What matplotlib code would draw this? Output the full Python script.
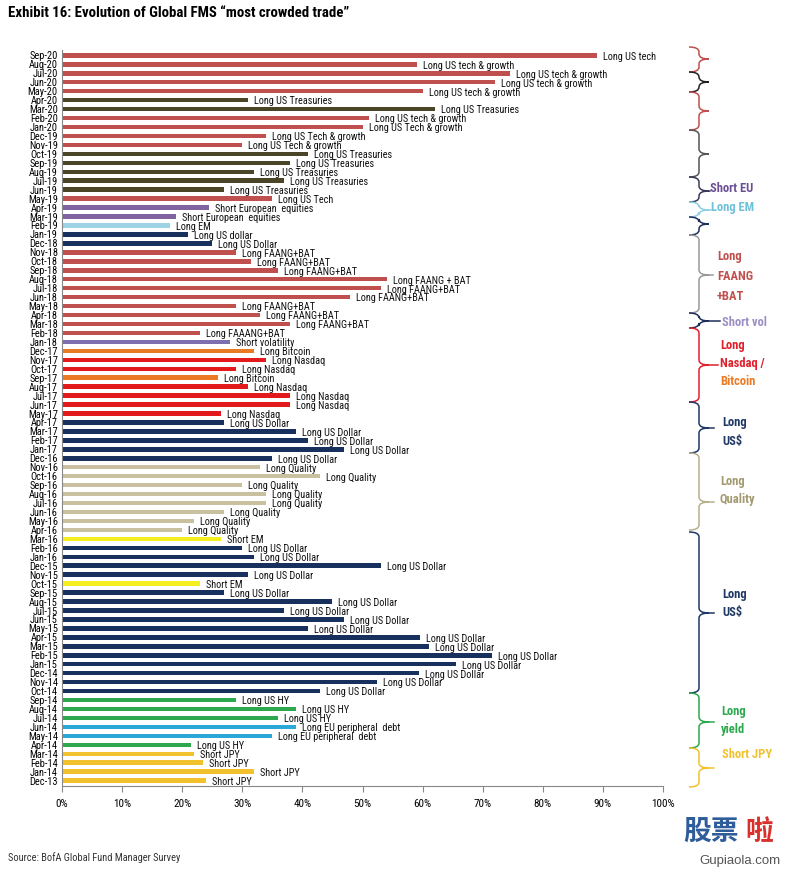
import numpy as np
import pandas as pd
import matplotlib
matplotlib.use('Agg')
import matplotlib.pyplot as plt
from matplotlib import font_manager
from matplotlib.font_manager import FontProperties
from matplotlib.path import Path
from matplotlib.patches import PathPatch


def find_narrow(bold=False):
    # the original uses Arial Narrow; look for any condensed face installed
    prefs = ['Liberation Sans Narrow', 'Arial Narrow', 'Roboto Condensed', 'Open Sans Condensed',
             'Noto Sans Condensed', 'DejaVu Sans Condensed', 'DejaVu Sans']
    found = []
    for f in font_manager.fontManager.ttflist:
        w = f.weight if isinstance(f.weight, int) else (700 if 'bold' in str(f.weight) else 400)
        if (w >= 600) != bold or f.style != 'normal':
            continue
        narrow = ('Narrow' in f.name or 'Condensed' in f.name or 'ondensed' in str(f.stretch)
                  or 'Condensed' in f.fname)
        if narrow:
            found.append(f)
    for p in prefs:
        for f in found:
            if f.name == p:
                return FontProperties(fname=f.fname)
    if found:
        return FontProperties(fname=found[0].fname)
    return FontProperties(family='Liberation Sans', weight='bold' if bold else 'normal')


FP = find_narrow()
FPB = find_narrow(bold=True)
plt.rcParams['font.family'] = ['Liberation Sans', 'DejaVu Sans']

# Dec-13 .. Sep-20, oldest first
months = list(pd.date_range('2013-12-01', '2020-09-01', freq='MS').strftime('%b-%y'))

values = [
    24, 32, 23.4, 22, 21.5, 35, 39, 36, 39, 29, 43, 52.4, 59.4,          # Dec-13 .. Dec-14
    65.5, 71.6, 61, 59.5, 41, 47, 37, 45, 27, 23, 31, 53,                # 2015
    32, 30, 26.5, 20, 22, 27, 34, 34, 30, 43, 33, 35,                    # 2016
    47, 41, 39, 27, 26.5, 38, 38, 31, 26, 29, 34, 32,                    # 2017
    28, 23, 38, 33, 29, 48, 53, 54, 36, 31.5, 29, 25,                    # 2018
    21, 18, 19, 24.5, 35, 27, 37, 32, 38, 41, 30, 34,                    # 2019
    50, 51, 62, 31, 60, 72, 74.5, 59, 89,                                # 2020
]

trades = [
    'Short JPY', 'Short JPY', 'Short JPY', 'Short JPY', 'Long US HY',
    'Long EU peripheral  debt', 'Long EU peripheral  debt', 'Long US HY', 'Long US HY', 'Long US HY',
    'Long US Dollar', 'Long US Dollar', 'Long US Dollar',
    'Long US Dollar', 'Long US Dollar', 'Long US Dollar', 'Long US Dollar', 'Long US Dollar',
    'Long US Dollar', 'Long US Dollar', 'Long US Dollar', 'Long US Dollar', 'Short EM',
    'Long US Dollar', 'Long US Dollar',
    'Long US Dollar', 'Long US Dollar', 'Short EM', 'Long Quality', 'Long Quality', 'Long Quality',
    'Long Quality', 'Long Quality', 'Long Quality', 'Long Quality', 'Long Quality', 'Long US Dollar',
    'Long US Dollar', 'Long US Dollar', 'Long US Dollar', 'Long US Dollar', 'Long Nasdaq',
    'Long Nasdaq', 'Long Nasdaq', 'Long Nasdaq', 'Long Bitcoin', 'Long Nasdaq', 'Long Nasdaq',
    'Long Bitcoin',
    'Short volatility', 'Long FAAANG+BAT', 'Long FAANG+BAT', 'Long FAANG+BAT', 'Long FAANG+BAT',
    'Long FAANG+BAT', 'Long FAANG+BAT', 'Long FAANG + BAT', 'Long FAANG+BAT', 'Long FAANG+BAT',
    'Long FAANG+BAT', 'Long US Dollar',
    'Long US dollar', 'Long EM', 'Short European  equities', 'Short European  equities',
    'Long US Tech', 'Long US Treasuries', 'Long US Treasuries', 'Long US Treasuries',
    'Long US Treasuries', 'Long US Treasuries', 'Long US Tech & growth', 'Long US Tech & growth',
    'Long US Tech & growth', 'Long US tech & growth', 'Long US Treasuries', 'Long US Treasuries',
    'Long US tech & growth', 'Long US tech & growth', 'Long US tech & growth',
    'Long US tech & growth', 'Long US tech',
]


def trade_colour(t):
    t = t.lower()
    if 'treasur' in t:
        return '#4A4526'
    if 'tech' in t or 'faa' in t:
        return '#C0504D'
    if 'european' in t:
        return '#8064A2'
    if 'volatility' in t:
        return '#7E6FAE'
    if 'long em' in t:
        return '#9DD3E3'
    if 'short em' in t:
        return '#F5EE1E'
    if 'dollar' in t:
        return '#17305E'
    if 'bitcoin' in t:
        return '#EB7A25'
    if 'nasdaq' in t:
        return '#E31A1C'
    if 'quality' in t:
        return '#C9C0A0'
    if 'hy' in t:
        return '#2DA84F'
    if 'peripheral' in t:
        return '#2BA8D8'
    return '#F2C12E'  # short JPY


# sizes: bigger if a condensed face was found
lab_fs = 7.4 if FP.get_file() else 6.3
tick_fs = 7.5 if FP.get_file() else 6.3
side_fs = 9 if FPB.get_file() else 8.5
title_fs = 10.7 if FPB.get_file() else 9.5

fig = plt.figure(figsize=(8, 8.72), dpi=100)
ax = fig.add_axes([62 / 800, 1 - 786 / 872, 601 / 800, 736 / 872])

y = np.arange(len(values))
ax.barh(y, values, height=0.5, color=[trade_colour(t) for t in trades])
for yi, v, t in zip(y, values, trades):
    ax.text(v + 1.0, yi - 0.15, t, fontproperties=FP, fontsize=lab_fs, va='center', ha='left',
            color='#111111')

ax.set_ylim(-0.6, len(values) - 0.4)
ax.set_xlim(0, 100)
ax.set_yticks(y)
ax.set_yticklabels(months, fontproperties=FP, fontsize=tick_fs)
ax.set_xticks(np.arange(0, 101, 10))
ax.set_xticklabels([f'{p}%' for p in range(0, 101, 10)], fontproperties=FP, fontsize=tick_fs + 0.5)
ax.tick_params(axis='y', length=0, pad=3)
ax.tick_params(axis='x', length=4, direction='out', color='#888888', pad=5)
for s in ['top', 'right']:
    ax.spines[s].set_visible(False)
ax.spines['left'].set_color('#888888')
ax.spines['bottom'].set_color('#888888')

# overlay in pixel coordinates for braces and annotations
ov = fig.add_axes([0, 0, 1, 1], zorder=5)
ov.set_xlim(0, 800)
ov.set_ylim(872, 0)
ov.axis('off')


def brace(y0, y1, yt, colour, xs=699, w=10, line_to=None):
    xl, xt, r = xs - w, xs + w, 5
    verts = [(xl, y0), (xs, y0), (xs, y0 + r), (xs, yt - r), (xs, yt), (xt, yt),
             (xs, yt), (xs, yt + r), (xs, y1 - r), (xs, y1), (xl, y1)]
    codes = [Path.MOVETO, Path.CURVE3, Path.CURVE3, Path.LINETO, Path.CURVE3, Path.CURVE3,
             Path.CURVE3, Path.CURVE3, Path.LINETO, Path.CURVE3, Path.CURVE3]
    ov.add_patch(PathPatch(Path(verts, codes), fill=False, edgecolor=colour, lw=1.1))
    if line_to:
        ov.plot([xt, line_to], [yt, yt], color=colour, lw=1.1)


brace(47, 72, 59, '#C0504D')
brace(72, 92, 82, '#222222')
brace(92, 130, 111, '#C0504D')
brace(130, 177, 154, '#555555')
brace(177, 202, 191, '#3A3A5A', line_to=710)
brace(202, 217, 210, '#8FCFE0', line_to=711)
brace(217, 235, 224, '#1F2F5A')
brace(235, 313, 275, '#999999', line_to=713)
brace(313, 328, 321, '#1F2F5A', line_to=720)
brace(328, 402, 365, '#E0202A', line_to=718)
brace(402, 453, 428, '#1F3864', line_to=714)
brace(453, 530, 502, '#B8B08A', line_to=714)
brace(532, 693, 613, '#1F3864', line_to=714)
brace(693, 748, 722, '#2DA84F', line_to=714)
brace(748, 787, 768, '#F2C12E', line_to=714)

side = dict(fontproperties=FPB, fontsize=side_fs, va='center', ha='left')
ov.text(710, 189, 'Short EU', color='#6B4F96', **side)
ov.text(711, 207, 'Long EM', color='#6EC1D8', **side)
ov.text(717, 256, 'Long', color='#C0504D', **side)
ov.text(717, 276, 'FAANG', color='#C0504D', **side)
ov.text(717, 296, '+BAT', color='#C0504D', **side)
ov.text(722, 322, 'Short vol', color='#9C8FC4', **side)
ov.text(720, 345, 'Long', color='#E0202A', **side)
ov.text(720, 363, 'Nasdaq /', color='#E0202A', **side)
ov.text(720, 381, 'Bitcoin', color='#EB7A25', **side)
ov.text(722, 422, 'Long', color='#1F3864', **side)
ov.text(722, 441, 'US$', color='#1F3864', **side)
ov.text(720, 481, 'Long', color='#A39A70', **side)
ov.text(720, 499, 'Quality', color='#A39A70', **side)
ov.text(722, 594, 'Long', color='#1F3864', **side)
ov.text(722, 612, 'US$', color='#1F3864', **side)
ov.text(721, 711, 'Long', color='#2DA84F', **side)
ov.text(721, 729, 'yield', color='#2DA84F', **side)
ov.text(722, 754, 'Short JPY', color='#F2C12E', **side)

ov.text(8, 13, 'Exhibit 16: Evolution of Global FMS \u201cmost crowded trade\u201d',
        fontproperties=FPB, fontsize=title_fs, va='center', ha='left')
ov.text(8, 858, 'Source: BofA Global Fund Manager Survey', fontproperties=FP, fontsize=tick_fs,
        color='#333333', va='center', ha='left')

# watermark
ov.text(683, 832, '股票', fontsize=20, fontweight='bold', color='#2F5D9A',
        family=['Noto Sans CJK SC', 'DejaVu Sans'], va='center', ha='left')
ov.text(745, 832, '啦', fontsize=20, fontweight='bold', color='#D9302C',
        family=['Noto Sans CJK SC', 'DejaVu Sans'], va='center', ha='left')
ov.text(740, 861, 'Gupiaola.com', fontsize=9.5, color='#555555', va='center', ha='center')

fig.savefig('out.png', dpi=100)
